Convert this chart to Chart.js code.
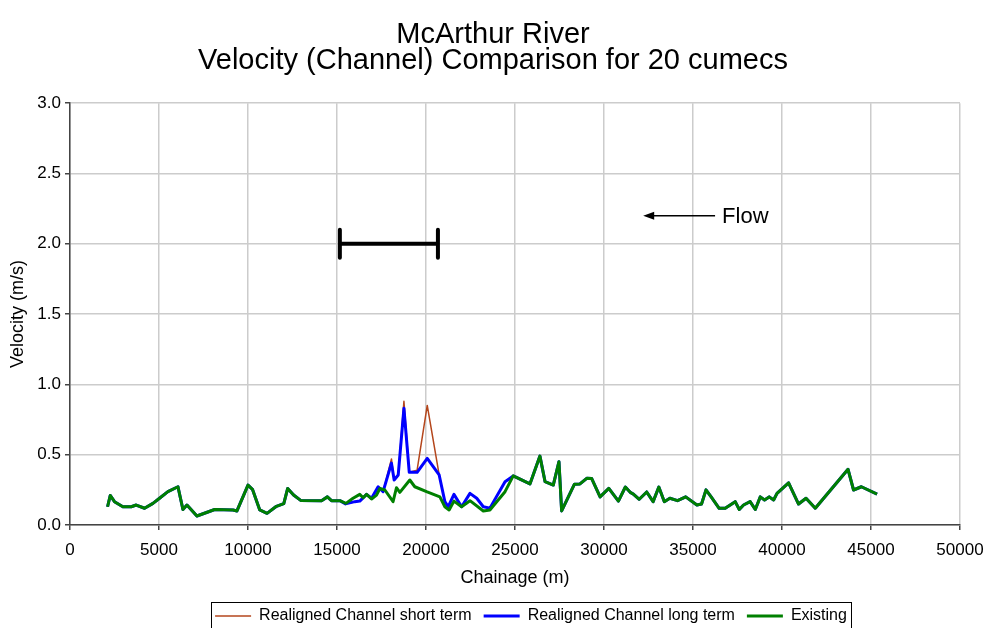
<!DOCTYPE html>
<html>
<head>
<meta charset="utf-8">
<script src="https://cdn.jsdelivr.net/npm/chart.js@4"></script>
<style>
  body { margin: 0; background: #fff; }
</style>
</head>
<body>
<canvas id="canvas" width="986" height="628"></canvas>
<script>
// existing channel, full reach
const chainage = [2110, 2260, 2500, 2970, 3440, 3720, 4190, 4660, 5030, 5500,
  6065, 6345, 6570, 7130, 8130, 9160, 9380, 10000, 10250, 10660,
  11070, 11560, 12010, 12230, 12560, 12960, 14130, 14460, 14690, 15160,
  15500, 15900, 16280, 16470, 16660, 16940, 17220, 17410, 17690, 18150,
  18340, 18530, 19090, 19370, 20030, 20780, 21060, 21300, 21570, 22000,
  22470, 23220, 23590, 24440, 24900, 25840, 26400, 26690, 27150, 27470,
  27620, 28340, 28650, 29030, 29310, 29780, 30270, 30810, 31200, 31500,
  31650, 31980, 32400, 32760, 33080, 33390, 33700, 34130, 34590, 35220,
  35480, 35730, 36020, 36470, 36810, 37370, 37600, 37840, 38210, 38500,
  38780, 39020, 39280, 39530, 39720, 40370, 40930, 41350, 41870, 43710,
  44020, 44460, 45340];

const existing = [0.13, 0.21, 0.166, 0.13, 0.13, 0.142, 0.119, 0.154, 0.19, 0.237,
  0.272, 0.11, 0.142, 0.064, 0.11, 0.107, 0.10, 0.284, 0.254, 0.107,
  0.083, 0.13, 0.152, 0.26, 0.213, 0.175, 0.173, 0.20, 0.173, 0.173,
  0.154, 0.19, 0.218, 0.194, 0.218, 0.185, 0.213, 0.26, 0.249, 0.166,
  0.265, 0.232, 0.32, 0.272, 0.237, 0.20, 0.13, 0.107, 0.17, 0.13,
  0.173, 0.10, 0.107, 0.237, 0.349, 0.292, 0.49, 0.308, 0.284, 0.45,
  0.10, 0.29, 0.292, 0.332, 0.33, 0.20, 0.26, 0.17, 0.27, 0.23,
  0.22, 0.183, 0.235, 0.166, 0.27, 0.166, 0.19, 0.173, 0.20, 0.142,
  0.149, 0.25, 0.20, 0.119, 0.119, 0.166, 0.11, 0.142, 0.166, 0.11,
  0.20, 0.178, 0.20, 0.178, 0.225, 0.30, 0.149, 0.19, 0.119, 0.396,
  0.249, 0.272, 0.22];

// realigned reach (outside it the realigned runs follow existing)
const realignChainage = [15160, 15480, 16000, 16280, 16660, 16940, 17310, 17590, 18060, 18210,
  18440, 18760, 19060, 19500, 20070, 20740, 21060, 21250, 21570, 22000,
  22470, 22850, 23220, 23590, 24440, 24900];
const longTerm = [0.173, 0.15, 0.166, 0.17, 0.218, 0.19, 0.272, 0.237, 0.44, 0.32,
  0.356, 0.83, 0.375, 0.375, 0.474, 0.356, 0.166, 0.13, 0.218, 0.13,
  0.225, 0.19, 0.13, 0.12, 0.308, 0.349];
const shortTerm = [0.173, 0.15, 0.166, 0.17, 0.218, 0.19, 0.272, 0.237, 0.47, 0.32,
  0.356, 0.88, 0.375, 0.39, 0.85, 0.356, 0.166, 0.13, 0.218, 0.13,
  0.225, 0.19, 0.13, 0.12, 0.308, 0.349];

// realignment extent bar and flow arrow
const realignExtent = [15160, 20670];
const extentLevel = 2.0;
const flowArrow = [36240, 32200];
const flowLevel = 2.2;

const xTicks = [0, 5000, 10000, 15000, 20000, 25000, 30000, 35000, 40000, 45000, 50000];
const yTicks = [0, 0.5, 1.0, 1.5, 2.0, 2.5, 3.0];

const existingPts = chainage.map((c, i) => ({x: c, y: existing[i]}));
function realigned(vals) {
  const lo = realignChainage[0], hi = realignChainage[realignChainage.length - 1];
  return existingPts.filter(p => p.x < lo)
    .concat(realignChainage.map((c, i) => ({x: c, y: vals[i]})))
    .concat(existingPts.filter(p => p.x > hi));
}

const FONT = 'Liberation Sans, Arial, sans-serif';

const extras = {
  id: 'extras',
  afterLayout(chart) {
    // legend sits a bit right of centre and low in the original
    const lg = chart.legend;
    lg.left += 38; lg.right += 38;
    lg.top += 6; lg.bottom += 6;
  },
  afterDatasetsDraw(chart) {
    const {ctx, scales: {x, y}} = chart;
    ctx.save();
    // extent bar
    const x1 = x.getPixelForValue(realignExtent[0]);
    const x2 = x.getPixelForValue(realignExtent[1]);
    const yb = y.getPixelForValue(extentLevel);
    ctx.strokeStyle = '#000';
    ctx.lineWidth = 4;
    ctx.lineCap = 'round';
    ctx.beginPath();
    ctx.moveTo(x1, yb); ctx.lineTo(x2, yb);
    ctx.moveTo(x1, yb - 14); ctx.lineTo(x1, yb + 14);
    ctx.moveTo(x2, yb - 14); ctx.lineTo(x2, yb + 14);
    ctx.stroke();
    // flow arrow
    const fa = x.getPixelForValue(flowArrow[0]);
    const fb = x.getPixelForValue(flowArrow[1]);
    const fy = y.getPixelForValue(flowLevel);
    ctx.lineWidth = 1.5;
    ctx.lineCap = 'butt';
    ctx.beginPath();
    ctx.moveTo(fa, fy); ctx.lineTo(fb + 8, fy);
    ctx.stroke();
    ctx.fillStyle = '#000';
    ctx.beginPath();
    ctx.moveTo(fb, fy); ctx.lineTo(fb + 11, fy - 4); ctx.lineTo(fb + 11, fy + 4);
    ctx.closePath();
    ctx.fill();
    ctx.font = '22px ' + FONT;
    ctx.textBaseline = 'middle';
    ctx.textAlign = 'left';
    ctx.fillText('Flow', fa + 7, fy + 1);
    ctx.restore();
  },
  afterDraw(chart) {
    const lg = chart.legend;
    if (!lg || !lg.legendHitBoxes.length) return;
    const boxes = lg.legendHitBoxes;
    const l = Math.min(...boxes.map(b => b.left)) - 4;
    const r = Math.max(...boxes.map(b => b.left + b.width)) + 4;
    const t = Math.min(...boxes.map(b => b.top)) - 6;
    const ctx = chart.ctx;
    ctx.save();
    ctx.strokeStyle = '#000';
    ctx.lineWidth = 1;
    ctx.strokeRect(Math.round(l) + 0.5, Math.round(t) + 0.5, Math.round(r - l), 40);
    ctx.restore();
  }
};

const ctx = document.getElementById('canvas').getContext('2d');

new Chart(ctx, {
  type: 'scatter',
  data: {
    datasets: [{
      label: 'Realigned Channel short term',
      data: realigned(shortTerm),
      borderColor: '#b4461c',
      backgroundColor: '#b4461c',
      borderWidth: 1.5,
      order: 2
    }, {
      label: 'Realigned Channel long term',
      data: realigned(longTerm),
      borderColor: '#0000ff',
      backgroundColor: '#0000ff',
      borderWidth: 3,
      order: 1
    }, {
      label: 'Existing',
      data: existingPts,
      borderColor: '#008000',
      backgroundColor: '#008000',
      borderWidth: 3,
      order: 0
    }]
  },
  options: {
    responsive: false,
    animation: false,
    showLine: true,
    elements: {
      point: { radius: 0, hoverRadius: 0 },
      line: { tension: 0, borderJoinStyle: 'round' }
    },
    layout: { padding: { left: 0, right: 0, top: 0, bottom: 0 } },
    scales: {
      x: {
        type: 'linear',
        min: 0, max: 50000,
        afterBuildTicks: s => { s.ticks = xTicks.map(v => ({value: v})); },
        afterFit: s => { s.height = 65; s.paddingRight = 26; s.paddingLeft = 0; },
        ticks: {
          color: '#000',
          font: { family: FONT, size: 17 },
          maxRotation: 0,
          padding: 10,
          callback: v => String(v)
        },
        grid: { color: '#cccccc', lineWidth: 1.5, tickColor: '#444', tickLength: 5 },
        border: { color: '#444', width: 1.5 },
        title: {
          display: true,
          text: 'Chainage (m)',
          color: '#000',
          font: { family: FONT, size: 18 },
          padding: { top: 0, bottom: 1 }
        }
      },
      y: {
        min: 0, max: 3,
        afterBuildTicks: s => { s.ticks = yTicks.map(v => ({value: v})); },
        afterFit: s => { s.width = 70; },
        ticks: {
          color: '#000',
          font: { family: FONT, size: 17 },
          padding: 4,
          callback: v => v.toFixed(1)
        },
        grid: { color: '#cccccc', lineWidth: 1.5, tickColor: '#444', tickLength: 5 },
        border: { color: '#444', width: 1.5 },
        title: {
          display: true,
          text: 'Velocity (m/s)',
          color: '#000',
          font: { family: FONT, size: 18 },
          padding: { top: 7, bottom: 0 }
        }
      }
    },
    plugins: {
      title: {
        display: true,
        text: ['McArthur River', 'Velocity (Channel) Comparison for 20 cumecs'],
        color: '#000',
        font: { family: FONT, size: 29, weight: 'normal', lineHeight: 0.9 },
        padding: { top: 22, bottom: 29 }
      },
      legend: {
        position: 'bottom',
        labels: {
          color: '#000',
          font: { family: FONT, size: 16 },
          usePointStyle: true,
          pointStyle: 'line',
          pointStyleWidth: 36,
          padding: 12,
          sort: (a, b) => a.datasetIndex - b.datasetIndex
        }
      },
      tooltip: { enabled: false }
    }
  },
  plugins: [extras]
});
</script>
</body>
</html>
